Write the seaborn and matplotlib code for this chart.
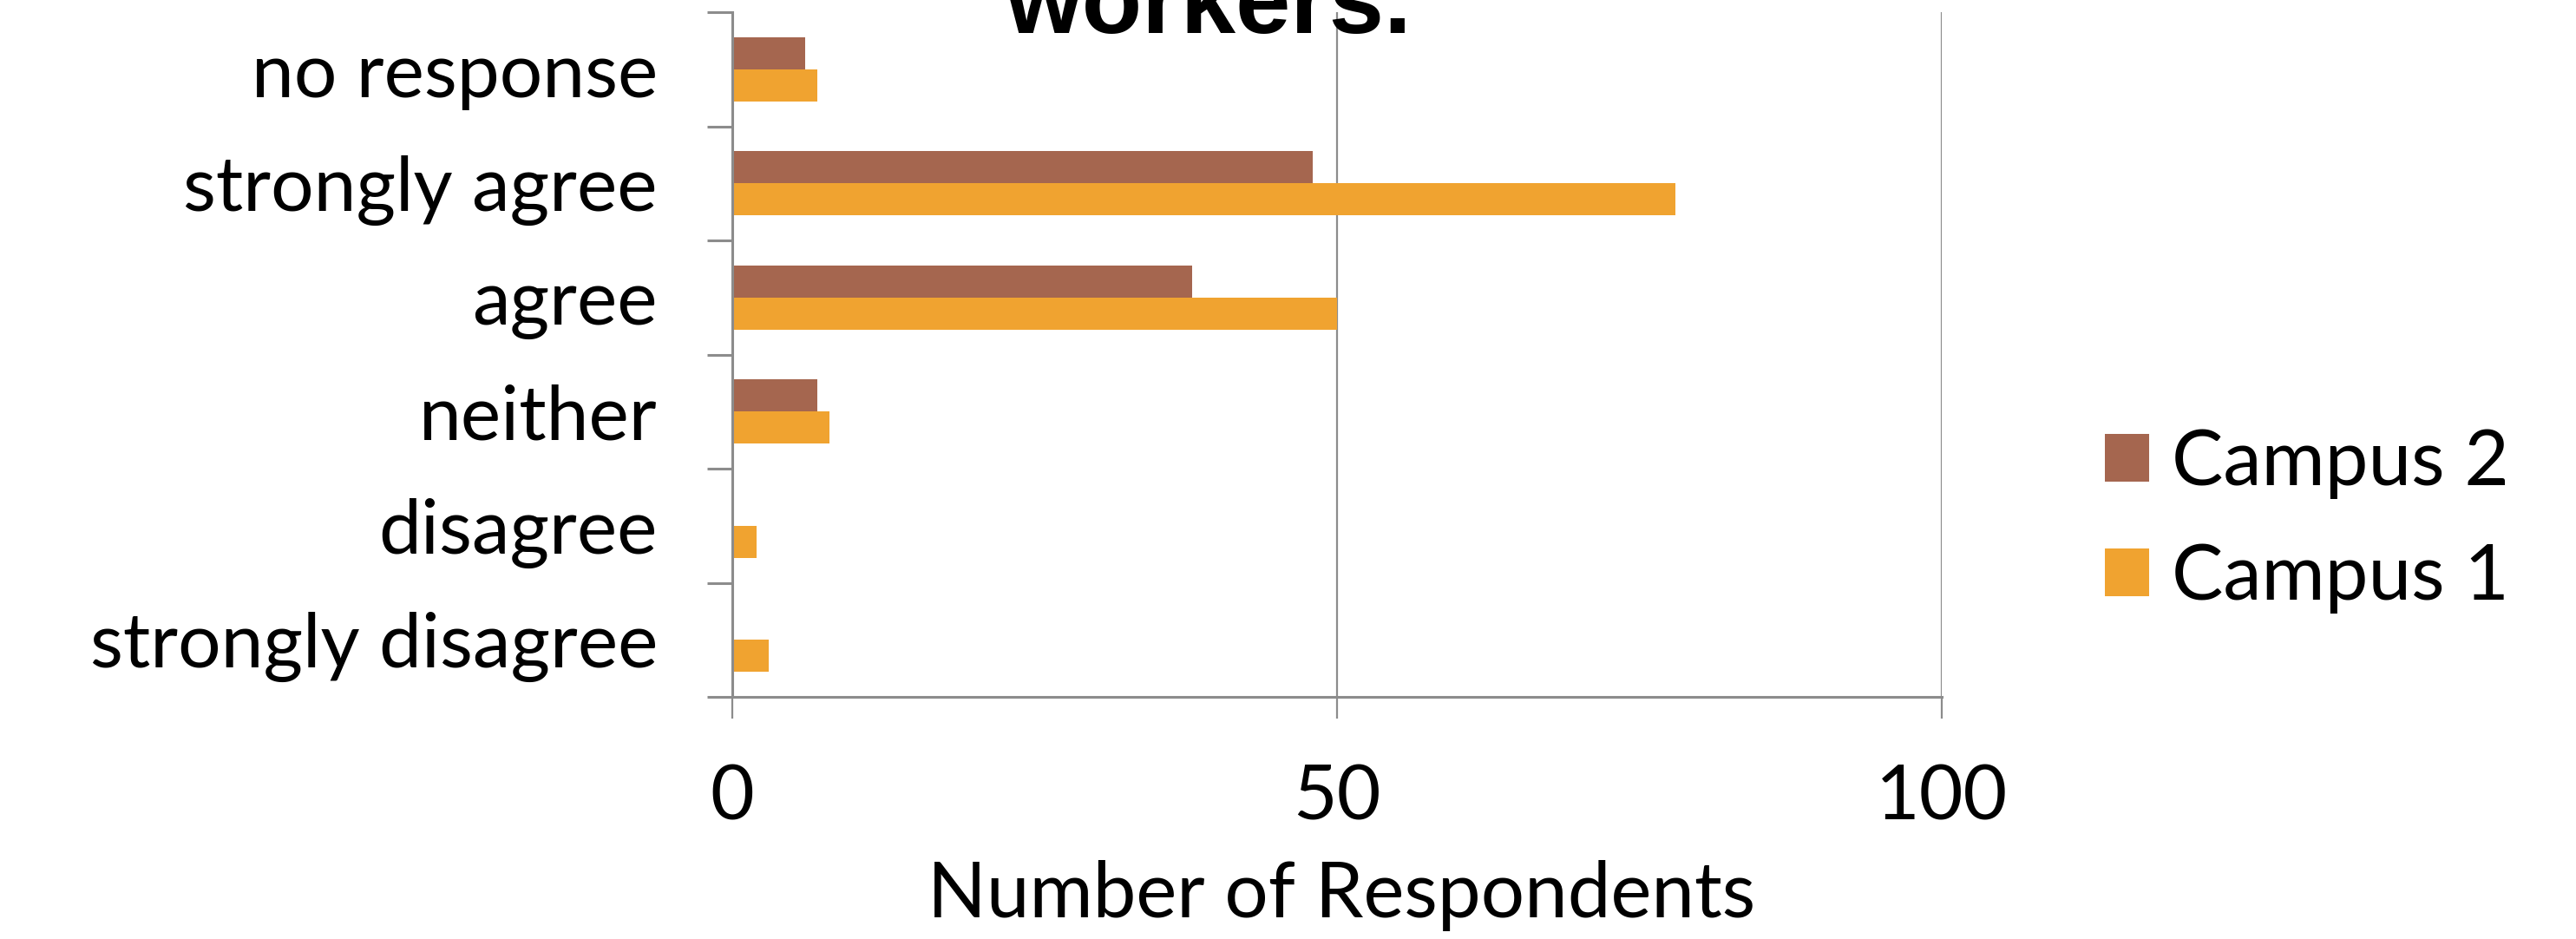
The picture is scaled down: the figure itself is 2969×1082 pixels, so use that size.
import matplotlib
matplotlib.use("Agg")
import matplotlib.pyplot as plt
import seaborn as sns
import pandas as pd
from matplotlib.ticker import FixedLocator

categories = ["no response", "strongly agree", "agree", "neither", "disagree", "strongly disagree"]
campus2 = [6, 48, 38, 7, 0, 0]
campus1 = [7, 78, 50, 8, 2, 3]
series_names = ["Campus 2", "Campus 1"]
x_ticks = [0, 50, 100]
title_text = "workers."
x_label = "Number of Respondents"

colors = {"Campus 2": "#A5664F", "Campus 1": "#F0A330"}

df = pd.DataFrame({
    "category": categories * 2,
    "value": campus2 + campus1,
    "series": [series_names[0]] * len(categories) + [series_names[1]] * len(categories),
})

sns.set_theme(style="white")
plt.rcParams["font.family"] = ["Lato", "DejaVu Sans"]
plt.rcParams["text.color"] = "black"
plt.rcParams["xtick.labelcolor"] = "black"
plt.rcParams["ytick.labelcolor"] = "black"
plt.rcParams["axes.labelcolor"] = "black"

FS = 63
DPI = 100
fig = plt.figure(figsize=(2969 / DPI, 1082 / DPI), dpi=DPI)
L, R, T, B = 844, 2238, 14, 803
ax = fig.add_axes([L / 2969, 1 - B / 1082, (R - L) / 2969, (B - T) / 1082])

sns.barplot(data=df, x="value", y="category", hue="series", order=categories,
            hue_order=series_names, palette=colors, orient="h", width=0.56,
            saturation=1, ax=ax, legend=True, linewidth=0)

grid_c = "#8c8c8c"
ax.set_xlim(0, 100)
ax.set_ylim(len(categories) - 0.5, -0.5)
ax.set_xticks(x_ticks)
ax.set_xticklabels([str(t) for t in x_ticks], fontsize=FS, color="black")
for xv in x_ticks[1:]:
    ax.axvline(xv, color=grid_c, lw=1.6, zorder=0)

for s in ["top", "right"]:
    ax.spines[s].set_visible(False)
for s in ["left", "bottom"]:
    ax.spines[s].set_color(grid_c)
    ax.spines[s].set_linewidth(2.2)

ax.set_yticks(range(len(categories)))
ax.set_yticklabels(categories, fontsize=FS, color="black")
ax.tick_params(axis="y", which="major", length=0, pad=62)
ax.yaxis.set_minor_locator(FixedLocator([i - 0.5 for i in range(len(categories) + 1)]))
ax.tick_params(axis="y", which="minor", length=21, width=2.2, color=grid_c, left=True)
ax.tick_params(axis="x", which="major", length=18, width=1.6, color=grid_c, bottom=True, pad=38)

ax.set_ylabel("")
ax.set_xlabel(x_label, fontsize=FS + 1, va="center", color="black")
ax.xaxis.set_label_coords(0.504, -(1032 - B) / (B - T))

fig.text(1393 / 2969, 1 - 38 / 1082, title_text, ha="center", va="baseline",
         fontsize=82, fontweight="bold", color="black",
         family=["Liberation Sans", "DejaVu Sans"])

leg = ax.legend(loc="center left", bbox_to_anchor=(2426 / 2969, 1 - 600 / 1082),
                bbox_transform=fig.transFigure, frameon=False, fontsize=FS + 1,
                borderaxespad=0, borderpad=0,
                handlelength=0.57, handleheight=0.57, handletextpad=0.3, labelspacing=0.56)
for t in leg.get_texts():
    t.set_color("black")

fig.savefig("out.png", dpi=DPI, facecolor="white")
